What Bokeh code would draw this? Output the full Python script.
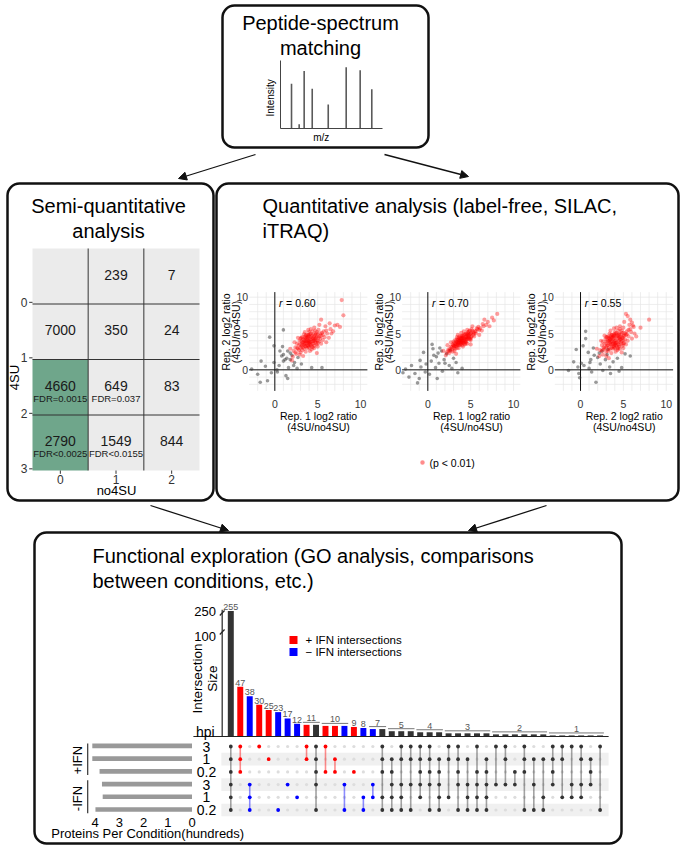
import math
from bokeh.plotting import figure
from bokeh.models import Range1d, BoxAnnotation, Arrow, NormalHead
from bokeh.core.properties import value
from bokeh.embed import file_html
from bokeh.resources import INLINE

FONT = value("Liberation Sans")

# ---------------- data ----------------
# spectrum (m/z in arbitrary units, relative intensity)
spec_mz = [10.8, 18.3, 23.2, 31.1, 46.8, 64.4, 78.1, 89.5]
spec_int = [73, 7, 94, 65, 39, 100, 95, 64]

# semi-quantitative table: rows = 4SU count, cols = no4SU count
heat_row = [0, 0, 0, 1, 1, 1, 2, 2, 2, 3, 3, 3]
heat_col = [0, 1, 2, 0, 1, 2, 0, 1, 2, 0, 1, 2]
heat_val = ["", "239", "7", "7000", "350", "24", "4660", "649", "83", "2790", "1549", "844"]
heat_fdr = ["", "", "", "", "", "", "FDR=0.0015", "FDR=0.037", "", "FDR<0.0025", "FDR<0.0155", ""]
heat_sig = [False, False, False, False, False, False, True, False, False, True, False, False]
heat_row_labels = ["0", "1", "2", "3"]
heat_col_labels = ["0", "1", "2"]

# quantitative scatter panels (log2 ratios)
r1r2_sig = [(3.1,3.2),(3.5,4.1),(4.0,3.6),(4.4,4.4),(3.8,3.0),(4.9,4.6),(2.7,2.9),(3.3,3.8),(4.2,5.0),(5.2,3.9),
            (3.6,4.7),(4.6,3.3),(2.9,4.0),(5.5,5.1),(3.0,2.4),(4.1,4.2),(3.9,4.8),(4.7,5.4),(2.4,3.1),(5.8,4.5),
            (3.4,3.5),(4.3,2.8),(3.7,4.3),(5.0,4.9),(2.6,3.6),(4.8,3.7),(3.2,4.5),(6.1,5.0),(3.9,3.9),(4.5,4.0),
            (2.2,2.6),(3.6,2.5),(4.0,4.6),(5.3,4.3),(3.3,3.1),(4.6,5.8),(2.8,3.4),(6.5,5.6),(3.5,5.2),(4.2,3.4),
            (5.6,4.1),(3.0,4.3),(4.4,3.9),(3.8,3.7),(4.9,3.5),(2.5,2.2),(3.7,3.3),(5.1,5.5),(4.1,2.6),(3.4,4.9),
            (6.8,5.3),(4.7,4.3),(2.9,2.1),(3.9,5.5),(5.4,4.7),(4.3,4.7),(3.1,3.9),(4.0,3.1),(5.9,6.0),(2.3,3.8),
            (3.6,3.9),(4.5,4.9),(5.0,3.2),(3.2,2.7),(4.8,4.1),(3.8,4.5),(6.3,4.4),(4.2,5.6),(2.7,4.4),(3.4,2.9),
            (5.2,6.2),(4.6,3.0),(3.9,3.4),(7.0,6.1),(4.4,3.6),(3.0,3.5),(5.7,5.3),(4.1,4.9),(3.5,3.7),(2.1,1.8),
            (5.4,6.9),(6.6,5.0),(8.0,7.5),(7.8,9.6),(7.3,6.2),(1.8,2.9),(2.0,1.3),(4.9,2.3),(3.3,1.9),(6.0,3.8),
            (4.0,4.0),(4.3,4.2),(3.7,3.9),(4.6,4.6),(3.6,4.4),(4.8,5.0),(3.2,3.4),(5.0,4.0),(4.1,3.8),(3.9,4.3),
            (3.5,3.3),(4.2,4.5),(3.9,3.2),(4.8,4.4),(3.3,4.2),(4.5,3.6),(5.3,5.0),(2.8,2.7),(4.0,5.2),(3.6,3.6),
            (4.7,3.9),(5.1,4.4),(3.4,4.0),(4.3,3.2),(3.0,3.0),(4.9,5.2),(3.7,4.8),(5.6,4.8),(4.1,3.5),(3.2,3.7),
            (4.4,5.3),(5.0,3.7),(3.8,4.1),(2.6,3.0),(4.6,4.1),(6.0,5.4),(3.5,4.5),(4.2,3.9),(5.4,3.6),(3.9,4.7),
            (4.5,4.3),(3.1,4.4),(4.0,3.7),(5.2,4.6),(3.6,3.2),(4.7,4.8),(6.4,6.4),(7.6,5.9),(2.4,2.4),(4.4,3.1)]
r1r2_ns = [(-0.6,4.5),(-0.1,3.3),(-0.1,1.0),(1.0,5.5),(-1.6,1.2),(-2.7,0.1),(-2.0,-0.6),(-1.7,-1.7),(-0.85,-1.5),
           (-1.1,0.5),(0.25,0.0),(0.3,-0.3),(1.3,-0.8),(1.5,-1.2),(0.6,2.6),(0.8,1.9),(1.2,1.4),(1.0,1.2),
           (1.4,1.6),(1.8,1.4),(1.5,2.6),(4.3,0.3),(5.5,0.3),(3.1,0.8),(2.3,1.0),(2.7,1.7),(1.0,2.1),(1.8,2.3),
           (2.2,0.6),(0.5,0.6),(1.6,0.3),(-0.4,-0.4),(2.0,2.0),(0.9,3.2),(2.6,0.2)]
r1r3_sig = [(3.0,3.3),(3.5,3.8),(4.0,4.2),(4.4,4.5),(3.8,3.5),(4.9,4.9),(2.6,2.9),(3.3,3.9),(4.2,4.8),(5.1,4.6),
            (3.6,4.4),(4.5,3.9),(2.9,3.5),(5.5,5.3),(3.1,2.6),(4.1,4.0),(3.9,4.6),(4.7,5.2),(2.4,2.8),(5.8,5.6),
            (3.4,3.4),(4.3,3.5),(3.7,4.1),(5.0,5.0),(2.7,3.2),(4.8,4.3),(3.2,4.1),(6.1,5.7),(3.9,3.9),(4.6,4.5),
            (2.2,2.4),(3.6,3.0),(4.0,4.7),(5.3,4.8),(3.3,3.2),(4.6,5.5),(2.8,3.1),(6.5,6.0),(3.5,4.8),(4.2,3.7),
            (5.6,5.0),(3.0,3.9),(4.4,4.1),(3.8,3.8),(4.9,4.2),(2.5,2.3),(3.7,3.4),(5.1,5.6),(4.1,3.2),(3.4,4.5),
            (6.8,6.2),(4.7,4.7),(2.9,2.5),(3.9,5.1),(5.4,5.0),(4.3,4.9),(3.1,3.7),(4.0,3.4),(5.9,5.9),(2.3,3.4),
            (3.6,3.7),(4.5,5.0),(5.0,4.1),(3.2,2.9),(4.8,4.8),(3.8,4.3),(6.3,5.4),(4.2,5.3),(2.7,3.8),(3.4,3.0),
            (5.2,6.0),(4.6,3.6),(3.9,3.6),(7.0,6.6),(4.4,3.8),(3.0,3.0),(5.7,5.7),(4.1,4.6),(3.5,3.5),(2.1,2.0),
            (7.5,7.2),(8.1,7.7),(6.6,6.9),(7.2,6.0),(1.8,2.6),(5.0,3.5),(6.0,4.8),(3.3,2.2),(4.0,4.0),(4.3,4.3),
            (3.7,4.0),(4.6,4.2),(3.6,4.2),(4.8,5.3),(3.2,3.5),(5.0,4.5),(4.1,4.4),(3.9,4.2),(4.5,4.6),(3.4,4.2),
            (3.5,3.6),(4.2,4.3),(3.9,3.7),(4.8,4.6),(3.3,3.6),(4.5,4.2),(5.3,5.2),(2.8,2.8),(4.0,4.4),(3.6,3.9),
            (4.7,4.4),(5.1,5.1),(3.4,3.8),(4.3,3.9),(3.0,3.4),(4.9,5.4),(3.7,4.6),(5.6,5.3),(4.1,3.7),(3.2,3.3),
            (4.4,4.9),(5.0,4.3),(3.8,4.0),(2.6,2.6),(4.6,4.9),(6.0,5.5),(3.5,4.1),(4.2,4.1),(5.4,4.6),(3.9,4.4),
            (4.5,4.4),(3.1,3.2),(4.0,3.8),(5.2,5.4),(3.6,3.4),(4.7,5.0),(6.4,6.3),(7.7,6.8),(2.4,2.6),(4.4,3.6)]
r1r3_ns = [(-1.5,-0.5),(-2.2,-1.0),(-0.8,0.4),(-2.6,0.1),(-1.2,-1.8),(-0.3,-0.3),(0.4,1.2),(-0.5,2.4),(0.6,2.9),
           (1.0,1.8),(1.3,0.9),(1.9,1.4),(2.2,2.2),(1.6,2.6),(0.9,0.3),(2.5,0.6),(3.0,1.6),(2.8,0.2),(3.5,-0.4),
           (-1.9,0.6),(0.2,-0.6),(1.1,-1.2),(-0.9,1.3),(0.5,3.5),(1.4,3.0),(2.0,0.9),(3.3,1.0),(-0.2,0.8),
           (1.7,-0.2),(-1.0,-1.2),(2.6,2.7),(0.7,2.0),(-2.9,-0.4),(4.0,0.2),(1.2,2.3)]
r2r3_sig = [(3.1,3.3),(3.5,4.2),(4.0,3.5),(4.4,4.6),(3.8,2.9),(4.9,4.4),(2.7,3.1),(3.3,4.0),(4.2,5.1),(5.1,3.7),
            (3.6,4.8),(4.5,3.2),(2.9,4.2),(5.4,5.3),(3.0,2.5),(4.1,4.1),(3.9,4.9),(4.6,5.6),(2.5,3.4),(5.6,4.6),
            (3.4,3.6),(4.3,2.7),(3.7,4.4),(5.0,5.1),(2.6,3.9),(4.8,3.6),(3.2,4.6),(5.9,5.2),(3.9,3.8),(4.5,4.0),
            (2.3,2.7),(3.6,2.3),(4.0,4.7),(5.2,4.2),(3.3,3.0),(4.6,6.0),(2.8,3.6),(6.2,5.9),(3.5,5.4),(4.2,3.3),
            (5.5,4.0),(3.0,4.5),(4.4,3.8),(3.8,3.6),(4.9,3.3),(2.6,2.1),(3.7,3.2),(5.0,5.8),(4.1,2.5),(3.4,5.0),
            (6.0,6.5),(4.7,4.2),(3.0,1.9),(3.9,5.7),(5.3,4.8),(4.3,4.8),(3.1,4.0),(4.0,3.0),(5.7,6.2),(2.4,4.0),
            (3.6,4.0),(4.5,5.0),(5.0,3.0),(3.2,2.6),(4.8,4.0),(3.8,4.6),(6.0,4.3),(4.2,5.8),(2.8,4.7),(3.4,2.8),
            (5.1,6.6),(4.6,2.9),(3.9,3.3),(5.5,7.4),(4.4,3.5),(3.0,3.6),(5.6,5.5),(4.1,5.0),(3.5,3.8),(2.2,1.9),
            (5.3,7.7),(5.8,6.9),(8.0,6.9),(6.3,5.0),(1.9,2.9),(4.8,2.4),(3.3,1.6),(6.5,4.6),(4.0,4.0),(4.3,4.3),
            (3.7,3.9),(4.6,4.5),(3.6,4.5),(4.8,5.1),(3.2,3.4),(5.0,4.1),(4.1,3.7),(3.9,4.4),(4.5,4.8),(3.4,4.3),
            (3.5,3.5),(4.2,4.6),(3.9,3.1),(4.8,4.5),(3.3,4.4),(4.5,3.4),(5.2,5.0),(2.8,3.0),(4.0,5.2),(3.6,3.5),
            (4.7,3.8),(5.0,4.6),(3.4,4.1),(4.3,3.0),(3.0,3.1),(4.8,5.4),(3.7,4.8),(5.4,4.9),(4.1,3.4),(3.2,3.9),
            (4.4,5.4),(5.0,3.6),(3.8,4.2),(2.7,2.8),(4.6,4.2),(5.8,5.6),(3.5,4.6),(4.2,3.8),(5.3,3.5),(3.9,4.7),
            (4.5,4.4),(3.1,4.5),(4.0,3.6),(5.1,4.7),(3.6,3.0),(4.7,4.9),(6.1,6.1),(7.0,5.8),(2.5,2.6),(4.4,2.9)]
r2r3_ns = [(0.6,5.3),(0.6,4.3),(-0.5,2.8),(-1.4,-0.1),(-0.1,-1.1),(1.8,-1.7),(3.5,-0.5),(4.8,0.3),(5.8,1.9),
           (3.1,2.1),(1.6,2.0),(1.2,1.4),(0.1,0.9),(0.4,0.6),(-0.3,0.4),(1.0,0.2),(2.3,0.8),(2.9,1.4),(3.4,0.4),
           (2.0,1.7),(1.5,3.0),(0.9,2.4),(2.5,2.6),(3.8,1.1),(4.3,1.6),(1.3,-0.3),(2.6,-0.1),(-0.8,1.1),
           (0.3,3.3),(4.5,-0.2),(2.2,2.3),(3.2,2.8),(1.1,1.0),(-0.2,-0.5),(5.2,2.2)]
panel_r = ["0.60", "0.70", "0.55"]
panel_xlab = ["Rep. 1 log2 ratio", "Rep. 1 log2 ratio", "Rep. 2 log2 ratio"]
panel_ylab = ["Rep. 2 log2 ratio", "Rep. 3 log2 ratio", "Rep. 3 log2 ratio"]

# UpSet plot
bar_sizes = [255, 47, 38, 30, 25, 23, 17, 12, 11, 11, 10, 10, 10, 9, 8, 7, 7, 5, 5, 5,
             4, 4, 4, 3, 3, 3, 3, 3, 2, 2, 2, 2, 2, 2, 1, 1, 1, 1, 1, 1]
bar_kind = ["both", "pos", "neg", "pos", "pos", "neg", "neg", "neg", "pos", "both",
            "pos", "pos", "neg", "pos", "neg", "neg"] + ["both"] * 24
intersection_sets = [[0,1,2,3,4,5],[0,1,2],[3,4,5],[0],[1],[5],[3],[4],[0,1],[0,1,2,3,5],
                     [0,2],[1,2],[3,5],[2],[4,5],[3,4],[0,1,2,4,5],[1,2,3,4,5],[0,1,3,4,5],[0,1,3,5],
                     [0,1,2,3,4],[0,1,2,3,5],[1,2,3,4,5],[0,1,4],[0,1,2,3,5],[1,3,4,5],[0,2,3,4,5],[1,2,3,4,5],
                     [0,3],[0,1,3],[2,3],[0,1,2,5],[1,3,5],[1,4,5],
                     [0,1,2,3],[0,1,4],[0,3,4],[0,1,3,4],[1,2,3],[0,5]]
set_labels = ["3", "1", "0.2", "3", "1", "0.2"]
set_sizes = [4.12, 4.12, 3.82, 3.72, 3.69, 3.99]   # hundreds of proteins
set_ticks = [4, 3, 2, 1, 0]

KIND_COLOR = {"both": "#333333", "pos": "#ff0000", "neg": "#0000ff"}

# ---------------- figure (canvas in page pixels) ----------------
p = figure(width=684, height=850, x_range=Range1d(0, 684), y_range=Range1d(850, 0),
           output_backend="svg", toolbar_location=None, min_border=0,
           x_axis_location=None, y_axis_location=None)
p.xgrid.visible = False
p.ygrid.visible = False
p.outline_line_color = None
p.background_fill_color = "white"
p.border_fill_color = "white"


def T(g, x, y, text, size=12, align="center", baseline="middle", color="#000000",
      angle=0.0, style="normal", x_offset=0, y_offset=0):
    if not isinstance(x, (list, tuple)):
        x, y, text = [x], [y], [text]
    g.text(x=list(x), y=list(y), text=list(text), text_font=FONT, text_font_size=f"{size}px",
           text_align=align, text_baseline=baseline, text_color=color, angle=angle,
           text_font_style=style, x_offset=x_offset, y_offset=y_offset)


# boxes
for (l, r, t, b) in [(222, 428, 5, 147), (7, 213, 183, 500), (216, 678, 183, 500), (34, 621, 532, 843)]:
    p.add_layout(BoxAnnotation(left=l, right=r, top=t, bottom=b, fill_alpha=0, fill_color=None,
                               line_color="#111111", line_alpha=1.0, line_width=2.5, border_radius=12))

# arrows
for (x0, y0, x1, y1) in [(255, 154, 178, 178), (384, 154, 468, 176), (150, 505, 228, 530), (546, 505, 468, 530)]:
    p.add_layout(Arrow(end=NormalHead(size=8, fill_color="#111111", line_color="#111111"),
                       x_start=x0, y_start=y0, x_end=x1, y_end=y1, line_width=1.3, line_color="#111111"))

# titles
T(p, [320, 320], [22, 47], ["Peptide-spectrum", "matching"], size=20)
T(p, [108, 108], [205, 230], ["Semi-quantitative", "analysis"], size=20)
T(p, [262, 262], [205, 230], ["Quantitative analysis (label-free, SILAC,", "iTRAQ)"], size=20, align="left")
T(p, [92, 92], [555, 580], ["Functional exploration (GO analysis, comparisons", "between conditions, etc.)"],
  size=20, align="left")

# ---------------- spectrum ----------------
sp = p.subplot(x_source=Range1d(0, 100), y_source=Range1d(0, 111),
               x_target=Range1d(280, 382), y_target=Range1d(128, 60))
sp.segment(x0=spec_mz, y0=[0] * len(spec_mz), x1=spec_mz, y1=spec_int, line_color="#5a5a5a", line_width=1.6)
sp.segment(x0=[0, 0], y0=[0, 0], x1=[0, 100], y1=[111, 0], line_color="#444444", line_width=1)
T(sp, -10, 50, "Intensity", size=10, angle=math.pi / 2)
T(sp, 40, -15, "m/z", size=10)

# ---------------- semi-quantitative table ----------------
hm = p.subplot(x_source=Range1d(-0.5, 2.5), y_source=Range1d(-0.5, 3.5),
               x_target=Range1d(32, 199), y_target=Range1d(248, 470))
hm.quad(left=[c - 0.5 for c in heat_col], right=[c + 0.5 for c in heat_col],
        top=[r - 0.5 for r in heat_row], bottom=[r + 0.5 for r in heat_row],
        fill_color=["#6fa68b" if s else "#ebebeb" for s in heat_sig], line_color=None)
hm.segment(x0=[0.5, 1.5], y0=[-0.5, -0.5], x1=[0.5, 1.5], y1=[3.5, 3.5], line_color="#333333", line_width=1)
hm.segment(x0=[-0.5] * 3, y0=[0.5, 1.5, 2.5], x1=[2.5] * 3, y1=[0.5, 1.5, 2.5], line_color="#333333", line_width=1)
T(hm, heat_col, [r - 0.03 for r in heat_row], heat_val, size=14, color="#1a1a1a")
T(hm, heat_col, [r + 0.2 for r in heat_row], heat_fdr, size=9.5, color="#1a1a1a")
nr = len(heat_row_labels)
T(hm, [-0.5] * nr, [i + 0.47 for i in range(nr)], heat_row_labels, size=12, align="right",
  color="#333333", x_offset=-5)
hm.segment(x0=[-0.56] * nr, y0=[i + 0.47 for i in range(nr)], x1=[-0.5] * nr,
           y1=[i + 0.47 for i in range(nr)], line_color="#333333", line_width=1)
ncl = len(heat_col_labels)
T(hm, list(range(ncl)), [3.5] * ncl, heat_col_labels, size=12, baseline="top", color="#333333", y_offset=4)
hm.segment(x0=list(range(ncl)), y0=[3.5] * ncl, x1=list(range(ncl)), y1=[3.56] * ncl,
           line_color="#333333", line_width=1)
T(p, 14, 377, "4SU", size=13, angle=math.pi / 2)
T(p, 116, 490, "no4SU", size=13)

# ---------------- scatter panels ----------------
panels = [(r1r2_sig, r1r2_ns), (r1r3_sig, r1r3_ns), (r2r3_sig, r2r3_ns)]
panel_dx = [0, 153, 305.7]
XLO, XHI, YLO, YHI = -3, 10.8, -2.9, 10.7
for k, (sig, ns) in enumerate(panels):
    dx = panel_dx[k]
    sc = p.subplot(x_source=Range1d(XLO, XHI), y_source=Range1d(YLO, YHI),
                   x_target=Range1d(248.6 + dx, 366.9 + dx), y_target=Range1d(390.4, 291.6))
    gx = list(range(-2, 11))
    gy = list(range(-2, 11))
    sc.segment(x0=gx, y0=[YLO] * len(gx), x1=gx, y1=[YHI] * len(gx), line_color="#e6e6e6", line_width=0.7)
    sc.segment(x0=[XLO] * len(gy), y0=gy, x1=[XHI] * len(gy), y1=gy, line_color="#e6e6e6", line_width=0.7)
    sc.segment(x0=[0, XLO], y0=[YLO, 0], x1=[0, XHI], y1=[YHI, 0], line_color="#111111", line_width=1)
    sc.scatter(x=[a for a, b in ns], y=[b for a, b in ns], size=3.6, fill_color="#333333",
               fill_alpha=0.5, line_color=None)
    sc.scatter(x=[a for a, b in sig], y=[b for a, b in sig], size=4.2, fill_color="#ff0000",
               fill_alpha=0.38, line_color=None)
    T(sc, [XLO] * 3, [0, 5, 10], ["0", "5", "10"], size=10.5, align="right", color="#333333", x_offset=-1)
    T(sc, [0, 5, 10], [-4.7] * 3, ["0", "5", "10"], size=10.5, color="#333333")
    T(sc, [5.1, 5.1], [-6.3, -7.9], [panel_xlab[k], "(4SU/no4SU)"], size=10.5)
    T(sc, [-5.75, -4.5], [5.2, 5.2], [panel_ylab[k], "(4SU/no4SU)"], size=10.5, angle=math.pi / 2)
    T(sc, 0.5, 9.2, "r", size=10.5, align="left", style="italic")
    T(sc, 0.5, 9.2, "= " + panel_r[k], size=10.5, align="left", x_offset=7)

# legend for scatter
p.scatter(x=[422], y=[462], size=4.5, fill_color="#ff0000", fill_alpha=0.45, line_color=None)
T(p, 429, 462, "(p < 0.01)", size=10.5, align="left")


# ---------------- UpSet: intersection bars ----------------
def brk(v):
    # broken y axis: linear part, then compressed above the breaks
    if v <= 90:
        return 1.06 * v
    if v <= 100:
        return 95.4 + (v - 90) * 0.46
    return 100 + (v - 100) * 0.165


nb = len(bar_sizes)
up = p.subplot(x_source=Range1d(0, nb - 1), y_source=Range1d(0, 100),
               x_target=Range1d(230.3, 599.6), y_target=Range1d(736, 636))
up.quad(left=[i - 0.315 for i in range(nb)], right=[i + 0.315 for i in range(nb)],
        bottom=[0] * nb, top=[brk(v) for v in bar_sizes],
        fill_color=[KIND_COLOR[k] for k in bar_kind], line_color=None)
# count labels (grouped where sizes repeat)
runs = []
i = 0
while i < nb:
    j = i
    while j + 1 < nb and bar_sizes[j + 1] == bar_sizes[i]:
        j += 1
    runs.append((i, j, bar_sizes[i]))
    i = j + 1
lab_x, lab_y, lab_t = [], [], []
gl_x0, gl_x1, gl_y = [], [], []
for (i0, i1, v) in runs:
    if i0 == i1:
        lab_x.append(i0)
        lab_y.append(brk(v))
    else:
        yl = brk(v) + 2.5
        gl_x0.append(i0 - 0.4)
        gl_x1.append(i1 + 0.4)
        gl_y.append(yl)
        lab_x.append((i0 + i1) / 2)
        lab_y.append(yl)
    lab_t.append(str(v))
up.segment(x0=gl_x0, y0=gl_y, x1=gl_x1, y1=gl_y, line_color="#777777", line_width=1)
T(up, lab_x, lab_y, lab_t, size=9, baseline="bottom", color="#555555", y_offset=-1)
AX = -0.91
up.segment(x0=[AX], y0=[0], x1=[AX], y1=[brk(262)], line_color="#222222", line_width=1.2)
up.segment(x0=[AX - 0.25, AX - 0.25], y0=[102, 121], x1=[AX + 0.25, AX + 0.25], y1=[107, 126],
           line_color="#222222", line_width=1.2)
T(up, [AX - 0.65] * 2, [brk(250), brk(100)], ["250", "100"], size=13, align="right")
up.segment(x0=[-3.95], y0=[0], x1=[39.9], y1=[0], line_color="#222222", line_width=1.2)
T(up, -3.5, 58, "Intersection", size=13.5, angle=math.pi / 2)
T(up, -1.93, 58, "Size", size=13.5, angle=math.pi / 2)
T(up, -2.7, 5, "hpi", size=14)

# legend
p.scatter(x=[293, 293], y=[639.5, 651.5], marker="square", size=8,
          fill_color=[KIND_COLOR["pos"], KIND_COLOR["neg"]], line_color=None)
T(p, [305, 305], [639.5, 651.5], ["+ IFN intersections", "\u2212 IFN intersections"], size=11.5, align="left")

# ---------------- UpSet: matrix ----------------
nrow = len(set_labels)
mx = p.subplot(x_source=Range1d(0, nb - 1), y_source=Range1d(0, nrow - 1),
               x_target=Range1d(230.3, 599.6), y_target=Range1d(746, 809.5))
band_rows = [r for r in range(nrow) if r % 2 == 1]
mx.quad(left=[-1.0] * len(band_rows), right=[39.9] * len(band_rows),
        top=[r - 0.5 for r in band_rows], bottom=[r + 0.5 for r in band_rows],
        fill_color="#f0f0f0", line_color=None)
ex, ey = [], []
for c, s in enumerate(intersection_sets):
    for r in range(nrow):
        if r not in s:
            ex.append(c)
            ey.append(r)
mx.scatter(x=ex, y=ey, size=3.2, fill_color="#dddddd", line_color=None)
mx.segment(x0=list(range(nb)), y0=[min(s) for s in intersection_sets], x1=list(range(nb)),
           y1=[max(s) for s in intersection_sets],
           line_color=[KIND_COLOR[k] for k in bar_kind], line_alpha=0.45, line_width=1.6)
fx, fy, fc = [], [], []
for c, s in enumerate(intersection_sets):
    for r in s:
        fx.append(c)
        fy.append(r)
        fc.append(KIND_COLOR[bar_kind[c]])
mx.scatter(x=fx, y=fy, size=3.8, fill_color=fc, line_color=None)
T(mx, [-2.57] * nrow, list(range(nrow)), set_labels, size=14)

# ---------------- UpSet: set sizes ----------------
ss = p.subplot(x_source=Range1d(0, 4), y_source=Range1d(0, nrow - 1),
               x_target=Range1d(191.5, 94.7), y_target=Range1d(745.3, 809))
ss.quad(left=[0] * nrow, right=set_sizes, top=[r - 0.185 for r in range(nrow)],
        bottom=[r + 0.185 for r in range(nrow)], fill_color="#999999", line_color=None)
T(ss, set_ticks, [6.0] * len(set_ticks), [str(t) for t in set_ticks], size=13)
T(ss, 1.83, 6.9, "Proteins Per Condition(hundreds)", size=13)
ss.segment(x0=[4.31, 4.31], y0=[-0.18, 2.7], x1=[4.31, 4.31], y1=[2.3, 5.3], line_color="#333333", line_width=1.2)
T(ss, [4.73, 4.73], [1.13, 4.14], ["+IFN", "-IFN"], size=13, angle=math.pi / 2)

open("out.html", "w").write(file_html(p, INLINE))
